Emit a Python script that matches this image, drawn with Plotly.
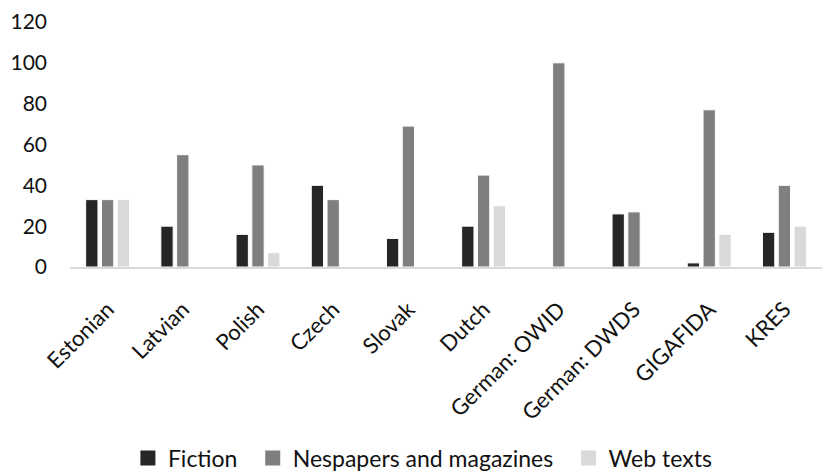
import plotly.graph_objects as go

categories = ["Estonian", "Latvian", "Polish", "Czech", "Slovak", "Dutch",
              "German: OWID", "German: DWDS", "GIGAFIDA", "KRES"]
fiction = [33, 20, 16, 40, 14, 20, 0, 26, 2, 17]
newspapers = [33, 55, 50, 33, 69, 45, 100, 27, 77, 40]
web_texts = [33, 0, 7, 0, 0, 30, 0, 0, 16, 20]

series_names = ["Fiction", "Nespapers and magazines", "Web texts"]
series_values = [fiction, newspapers, web_texts]
series_colors = ["#262626", "#7f7f7f", "#d9d9d9"]
legend_ids = ["legend", "legend2", "legend3"]
legend_x = [0.077, 0.243, 0.663]   # paper x of each legend entry

fig = go.Figure()
for name, vals, color in zip(series_names, series_values, series_colors):
    fig.add_trace(go.Bar(
        x=categories, y=vals, name=name, showlegend=False,
        marker=dict(color=color, line=dict(color="white", width=1)),
    ))
for name, color, lid in zip(series_names, series_colors, legend_ids):
    fig.add_trace(go.Scatter(
        x=[None], y=[None], mode="markers", name=name, legend=lid,
        marker=dict(symbol="square", size=15, color=color),
    ))

FONT = "Lato"
leg_common = dict(orientation="h", xanchor="left", y=-0.78, yanchor="middle",
                  font=dict(size=23, family=FONT, color="#111111"),
                  bgcolor="rgba(0,0,0,0)", borderwidth=0, itemwidth=30)
layout_legends = {}
for lid, lx in zip(legend_ids, legend_x):
    layout_legends[lid] = dict(x=lx, **leg_common)

fig.update_layout(
    width=822, height=472,
    margin=dict(l=70, r=0, t=22, b=205, autoexpand=False),
    plot_bgcolor="white", paper_bgcolor="white",
    barmode="group", bargap=0.37, bargroupgap=0.22,
    font=dict(family=FONT, size=21, color="#111111"),
    showlegend=True,
    xaxis=dict(showgrid=False, showline=True, linecolor="#d9d9d9", linewidth=2,
               tickangle=-45, ticks="", tickfont=dict(size=22), ticklabelstandoff=19,
               automargin=False),
    yaxis=dict(range=[0, 120], dtick=20, showgrid=False, showline=False, zeroline=False,
               ticks="", tickfont=dict(size=21), ticklabelstandoff=22, automargin=False),
    **layout_legends,
)
fig.write_html("out.html")
